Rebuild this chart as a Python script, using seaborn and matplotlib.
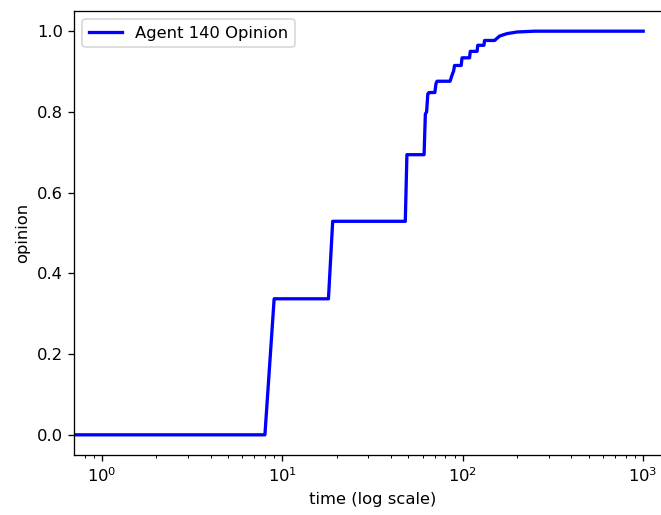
import matplotlib
matplotlib.use("Agg")
import matplotlib.pyplot as plt
import seaborn as sns

# change points of Agent 140's opinion (time, value)
times = [0, 1, 8, 9, 18, 19, 48, 49, 61, 62, 63, 64, 65, 70, 71, 72, 85, 87, 89, 90,
         98, 99, 109, 110, 120, 121, 131, 132, 150, 160, 176, 200, 250, 1000]
opinions = [0.0, 0.0, 0.0, 0.337, 0.337, 0.529, 0.529, 0.694, 0.694, 0.795, 0.800, 0.845,
            0.848, 0.848, 0.870, 0.876, 0.876, 0.890, 0.902, 0.915, 0.915, 0.934,
            0.934, 0.950, 0.950, 0.965, 0.965, 0.977, 0.977, 0.988, 0.994, 0.998,
            1.0, 1.0]
series_label = "Agent 140 Opinion"

DPI = 118
fig = plt.figure(figsize=(661 / DPI, 515 / DPI), dpi=DPI)
ax = fig.add_axes([74.3 / 661, 60 / 515, 596.6 / 661, 444 / 515])
sns.lineplot(x=times, y=opinions, color="blue", linewidth=2, label=series_label,
             estimator=None, sort=False, ax=ax)
ax.set_xscale("log")
ax.set_xlim(10 ** -0.1535, 10 ** 3.1535)
ax.set_ylim(-0.05, 1.05)
ax.set_xlabel("time (log scale)")
ax.set_ylabel("opinion")
ax.legend(loc="upper left")
fig.savefig("out.png", dpi=DPI)
